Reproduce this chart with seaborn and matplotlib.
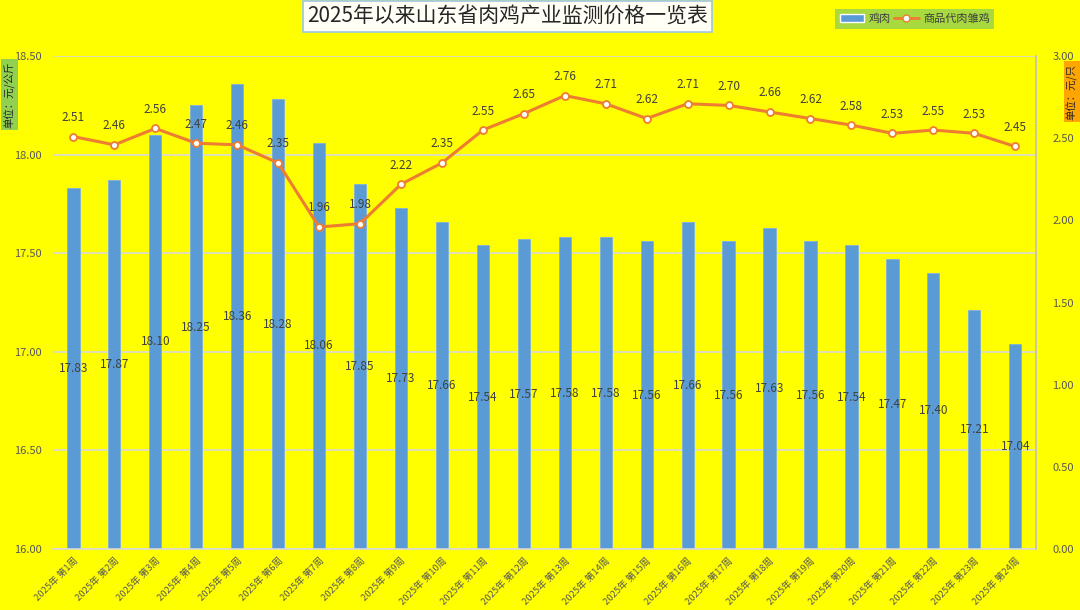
import numpy as np
import pandas as pd
import matplotlib
matplotlib.use("Agg")
import matplotlib.pyplot as plt
import seaborn as sns
from matplotlib.lines import Line2D
from matplotlib.patches import Patch

# weekly monitoring data, Shandong broiler industry 2025
weeks = [f"2025年 第{i}周" for i in range(1, 25)]
meat_price = [17.83, 17.87, 18.10, 18.25, 18.36, 18.28, 18.06, 17.85, 17.73, 17.66,
              17.54, 17.57, 17.58, 17.58, 17.56, 17.66, 17.56, 17.63, 17.56, 17.54,
              17.47, 17.40, 17.21, 17.04]
chick_price = [2.51, 2.46, 2.56, 2.47, 2.46, 2.35, 1.96, 1.98, 2.22, 2.35,
               2.55, 2.65, 2.76, 2.71, 2.62, 2.71, 2.70, 2.66, 2.62, 2.58,
               2.53, 2.55, 2.53, 2.45]

df = pd.DataFrame({"week": weeks, "pos": np.arange(len(weeks)),
                   "meat": meat_price, "chick": chick_price})

sns.set_theme(style="white")
plt.rcParams['font.family'] = ['Noto Sans CJK SC', 'DejaVu Sans']

bg = "#ffff00"
bar_color = "#5b9bd5"
line_color = "#ed7d31"
tick_color = "#595959"

fig = plt.figure(figsize=(10.8, 6.1), dpi=100, facecolor=bg)
ax = fig.add_axes([0.049, 0.1, 0.910, 0.808])
ax.set_facecolor(bg)

sns.barplot(data=df, x="week", y="meat", color=bar_color, width=0.3,
            saturation=1, edgecolor="#7fb0de", linewidth=0.6, ax=ax, zorder=2)
ax.set_ylim(16, 18.5)
ax.set_xlim(-0.5, len(weeks) - 0.5)
ax.set_yticks(np.arange(16, 18.51, 0.5))
ax.set_yticklabels([f"{v:.2f}" for v in np.arange(16, 18.51, 0.5)],
                   fontsize=8, color=tick_color)
ax.yaxis.grid(True, color="#d9d9d9", linewidth=1.2, zorder=0)
ax.set_axisbelow(True)
ax.set_xlabel("")
ax.set_ylabel("")
ax.set_xticks(range(len(weeks)))
ax.set_xticklabels(weeks, rotation=45, ha="right", rotation_mode="anchor",
                   fontsize=6.8, color=tick_color)
ax.tick_params(axis="x", length=0, pad=5)
ax.tick_params(axis="y", length=0, pad=8)
for s in ["left", "top", "right"]:
    ax.spines[s].set_visible(False)
ax.spines["bottom"].set_color("#d9d9d9")
ax.spines["bottom"].set_linewidth(1.2)

# bar labels in the middle of each bar
for i, v in enumerate(meat_price):
    ax.text(i, 16 + (v - 16) / 2, f"{v:.2f}", ha="center", va="center",
            fontsize=8.5, color="#404040", zorder=5)

ax2 = ax.twinx()
sns.lineplot(data=df, x="pos", y="chick", color=line_color, linewidth=2.2,
             marker="o", markersize=5, markerfacecolor="white",
             markeredgecolor=line_color, markeredgewidth=1.3, ax=ax2, zorder=4)
ax2.set_ylim(0, 3)
ax2.set_yticks(np.arange(0, 3.01, 0.5))
ax2.set_yticklabels([f"{v:.2f}" for v in np.arange(0, 3.01, 0.5)],
                    fontsize=8, color=tick_color)
ax2.tick_params(axis="y", length=0, pad=12)
ax2.set_ylabel("")
ax2.set_xlabel("")
for s in ["left", "top", "bottom"]:
    ax2.spines[s].set_visible(False)
ax2.spines["right"].set_color("#bfbfbf")
ax2.spines["right"].set_linewidth(1.2)

for i, v in enumerate(chick_price):
    ax2.annotate(f"{v:.2f}", (i, v), xytext=(0, 9), textcoords="offset points",
                 ha="center", va="bottom", fontsize=8.5, color="#404040")

# title in a box
fig.text(0.47, 0.973, "2025年以来山东省肉鸡产业监测价格一览表", ha="center", va="center",
         fontsize=15, color="#262626",
         bbox=dict(boxstyle="square,pad=0.2", facecolor="#fffff5",
                   edgecolor="#9dc3e6", linewidth=1.2))

# axis unit labels
fig.text(0.009, 0.845, "单位：元/公斤", rotation=90, ha="center", va="center",
         fontsize=7.5, color="#262626",
         bbox=dict(boxstyle="square,pad=0.25", facecolor="#92d050", edgecolor="none"))
fig.text(0.9925, 0.85, "单位：元/只", rotation=90, ha="center", va="center",
         fontsize=7.5, color="#262626",
         bbox=dict(boxstyle="square,pad=0.25", facecolor="#ffa500", edgecolor="none"))

handles = [Patch(facecolor=bar_color, label="鸡肉"),
           Line2D([0], [0], color=line_color, linewidth=2, marker="o", markersize=5,
                  markerfacecolor="white", markeredgecolor=line_color, label="商品代肉雏鸡")]
leg = fig.legend(handles=handles, loc="center", bbox_to_anchor=(0.847, 0.969), ncol=2,
                 fontsize=8, frameon=True, handlelength=2.2, handletextpad=0.4,
                 columnspacing=0.3, borderpad=0.4, fancybox=False)
leg.get_frame().set_facecolor("#92d050")
leg.get_frame().set_edgecolor("none")
for t in leg.get_texts():
    t.set_color("#404040")

fig.savefig("out.png", dpi=100, facecolor=bg)
